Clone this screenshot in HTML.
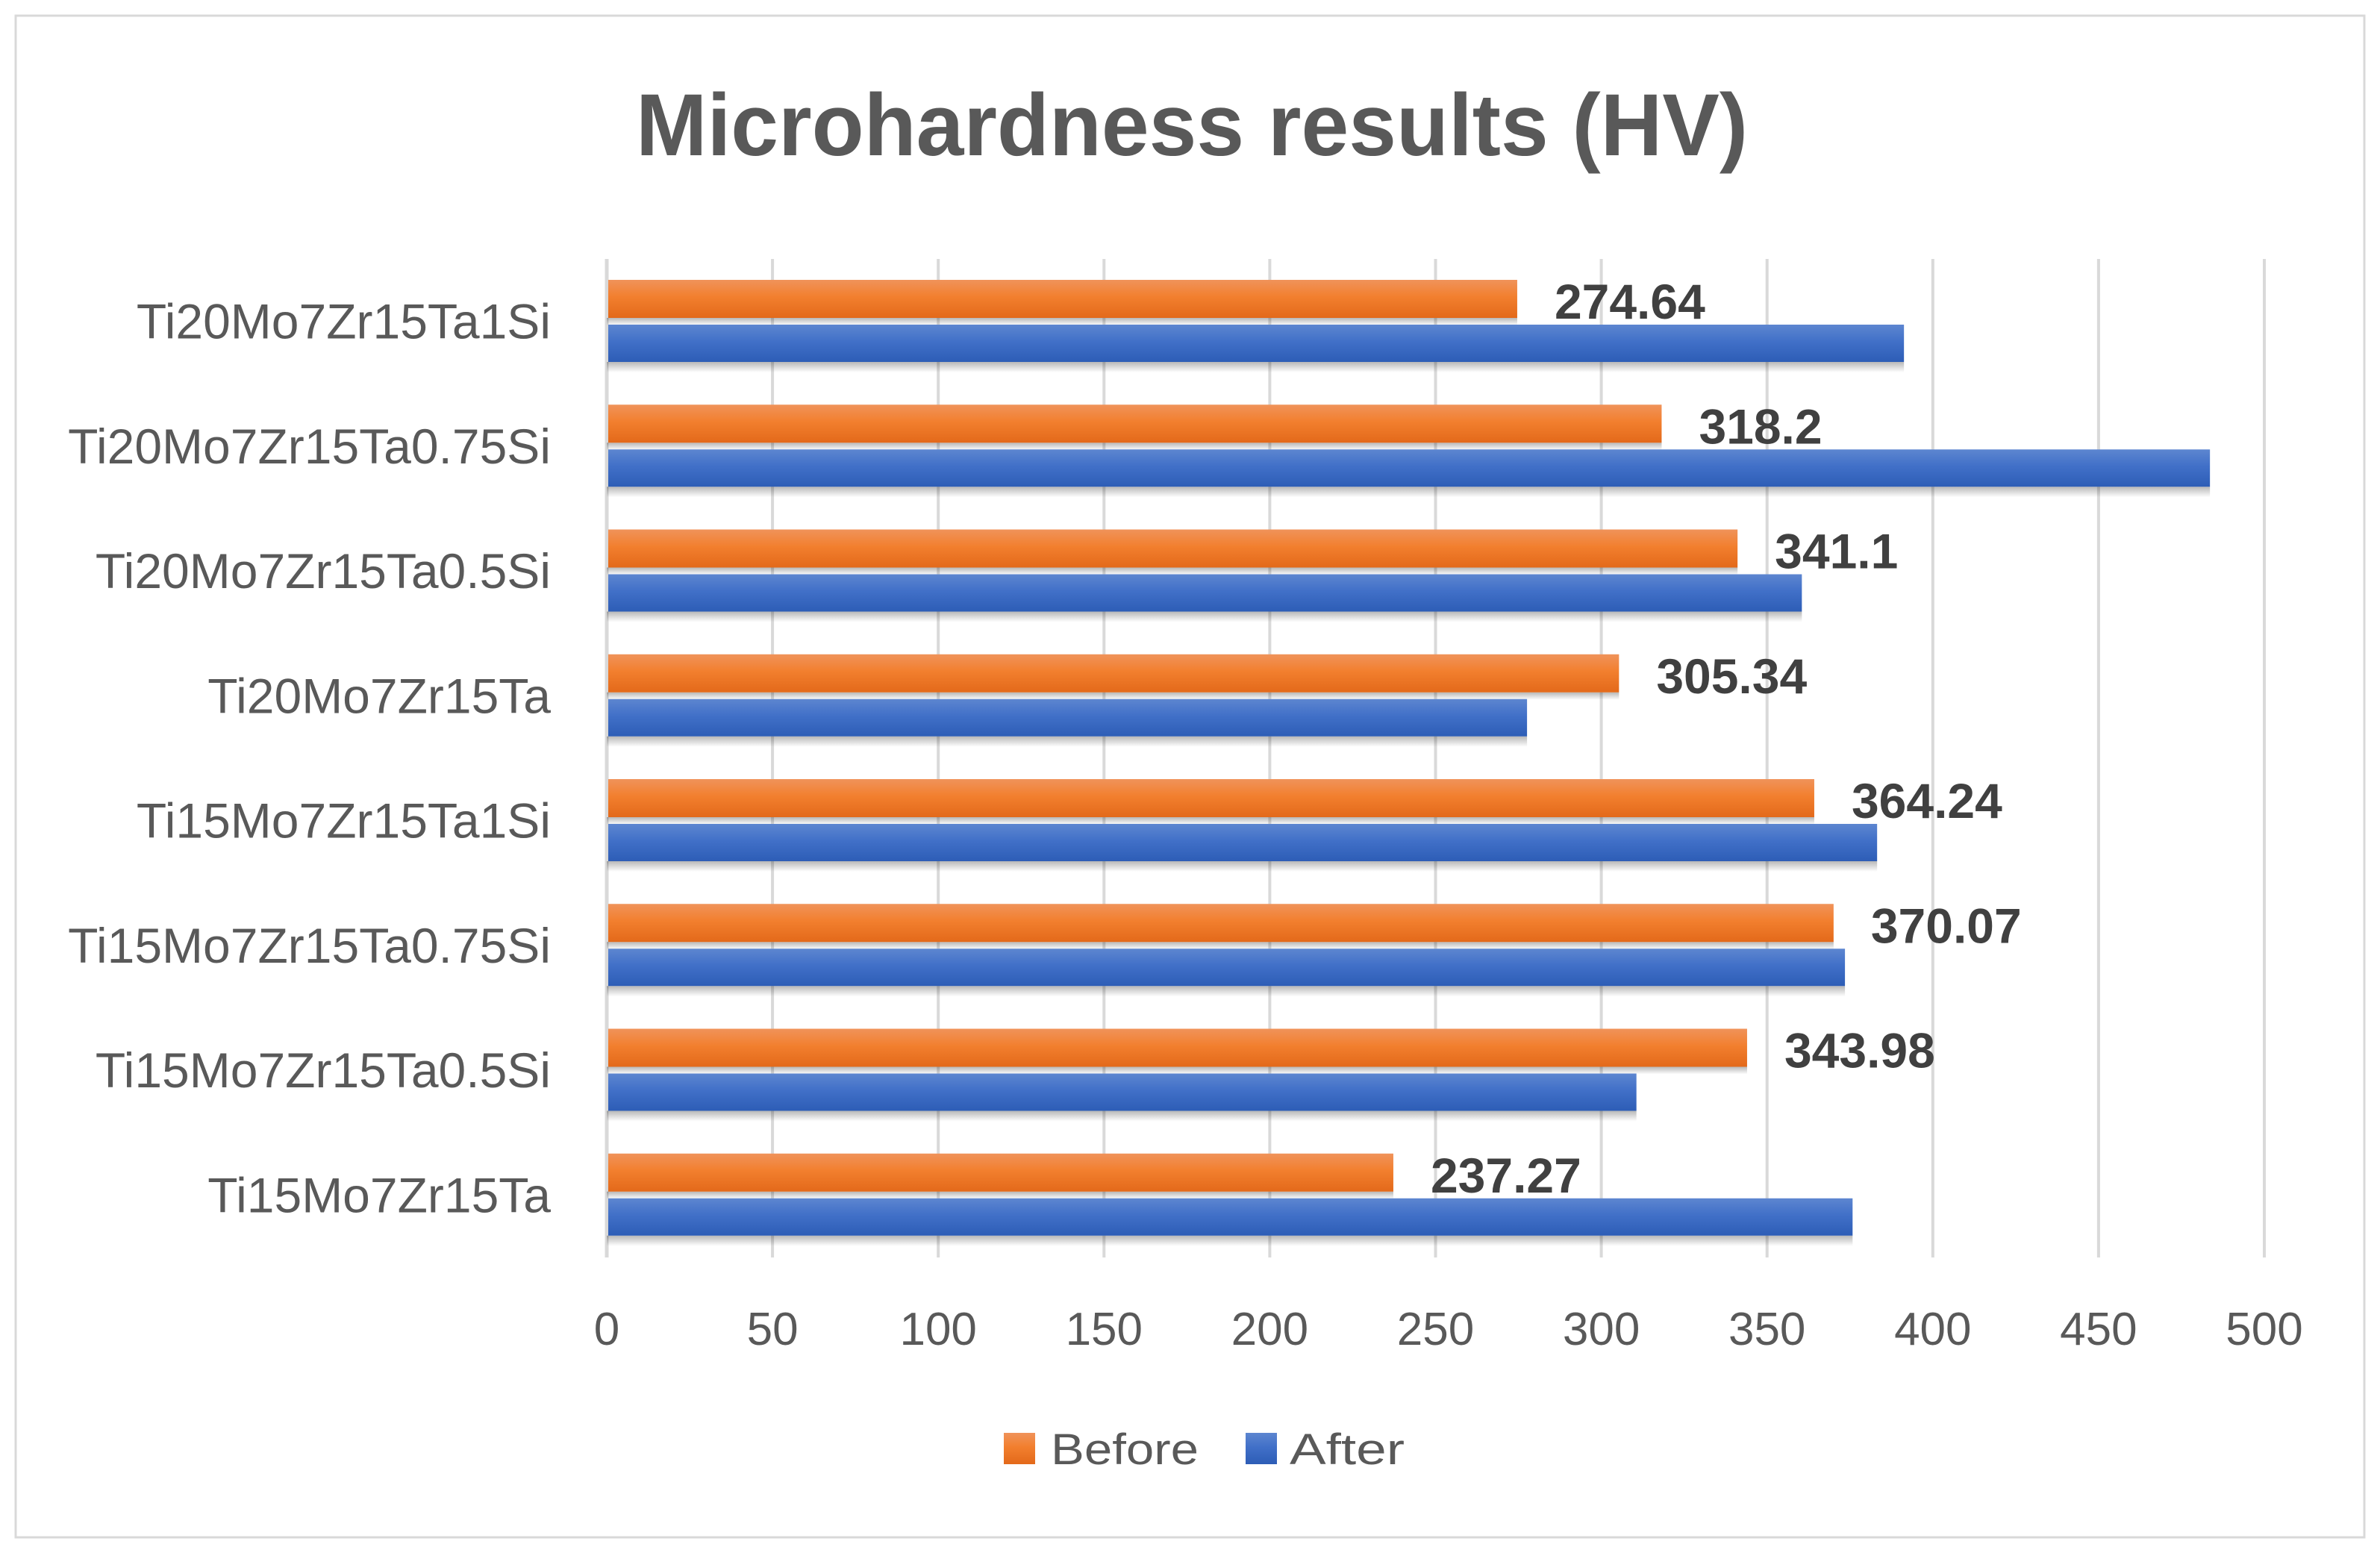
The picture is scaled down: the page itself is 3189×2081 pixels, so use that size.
<!DOCTYPE html>
<html><head><meta charset="utf-8"><style>
html,body{margin:0;padding:0;background:#fff;}
svg{display:block;font-family:"Liberation Sans",Arial,sans-serif;}
</style></head><body>
<svg id="chart" width="3189" height="2081" viewBox="0 0 3189 2081" xmlns="http://www.w3.org/2000/svg">
<defs>
<linearGradient id="gO" x1="0" y1="0" x2="0" y2="1"><stop offset="0" stop-color="#f0935a"/><stop offset="0.45" stop-color="#f27f2e"/><stop offset="1" stop-color="#e3691a"/></linearGradient>
<linearGradient id="gB" x1="0" y1="0" x2="0" y2="1"><stop offset="0" stop-color="#5d86d0"/><stop offset="0.45" stop-color="#4170c8"/><stop offset="1" stop-color="#2d5db6"/></linearGradient>
<linearGradient id="gS" x1="0" y1="0" x2="0" y2="1"><stop offset="0" stop-color="#000" stop-opacity="0.28"/><stop offset="1" stop-color="#000" stop-opacity="0"/></linearGradient>
</defs>
<rect x="21" y="21" width="3147" height="2039" fill="#fff" stroke="#d9d9d9" stroke-width="3"/>
<text x="1597" y="208" text-anchor="middle" font-size="118" font-weight="bold" fill="#595959" textLength="1490" lengthAdjust="spacingAndGlyphs">Microhardness results (HV)</text>
<g id="grid"></g>
<g id="cats"></g>
<g id="bars"></g>
<g id="labels"></g>
<g id="ticks"></g>
<g>
<rect x="1345" y="1920" width="42" height="42" fill="url(#gO)"/>
<text x="1408" y="1962" font-size="58" fill="#595959" textLength="198" lengthAdjust="spacingAndGlyphs">Before</text>
<rect x="1669" y="1920" width="42" height="42" fill="url(#gB)"/>
<text x="1728" y="1962" font-size="58" fill="#595959" textLength="154" lengthAdjust="spacingAndGlyphs">After</text>
</g>
</svg>
<script>
const categories = ["Ti20Mo7Zr15Ta1Si","Ti20Mo7Zr15Ta0.75Si","Ti20Mo7Zr15Ta0.5Si","Ti20Mo7Zr15Ta","Ti15Mo7Zr15Ta1Si","Ti15Mo7Zr15Ta0.75Si","Ti15Mo7Zr15Ta0.5Si","Ti15Mo7Zr15Ta"];
const beforeValues = [274.64,318.2,341.1,305.34,364.24,370.07,343.98,237.27];
const afterValues = [391.3,483.6,360.5,277.6,383.2,373.5,310.6,375.8];
const beforeLabels = ["274.64","318.2","341.1","305.34","364.24","370.07","343.98","237.27"];
const tickValues = [0,50,100,150,200,250,300,350,400,450,500];

const NS="http://www.w3.org/2000/svg";
const X0=813,X1=3034,XMAX=500,TOP=347,BOT=1685;
const band=(BOT-TOP)/categories.length;
const xs=v=>X0+(v/XMAX)*(X1-X0);
function mk(tag,attrs,parent){const e=document.createElementNS(NS,tag);for(const k in attrs)e.setAttribute(k,attrs[k]);parent.appendChild(e);return e;}
const grid=document.getElementById('grid'),cats=document.getElementById('cats'),bars=document.getElementById('bars'),labels=document.getElementById('labels'),ticks=document.getElementById('ticks');
tickValues.forEach((t,i)=>{
  const l=mk('line',{x1:xs(t),x2:xs(t),y1:TOP,y2:BOT,stroke:'#d9d9d9','stroke-width':i===0?5:4},grid);
  
  
  const tx=mk('text',{x:xs(t),y:1802,'text-anchor':'middle','font-size':62,fill:'#595959'},ticks);
  tx.textContent=t;
  
  
});
categories.forEach((c,i)=>{
  const y=TOP+i*band;
  const ct=mk('text',{x:738,y:y+band/2+23,'text-anchor':'end','font-size':66,fill:'#595959'},cats);
  ct.textContent=c;
  
  
  const wb=xs(afterValues[i])-X0, wo=xs(beforeValues[i])-X0;
  const sh=mk('rect',{x:X0,y:y+138,width:wb,height:14,fill:'url(#gS)'},bars);
  
  
  const so=mk('rect',{x:X0,y:y+79,width:wo,height:10,fill:'url(#gS)'},bars);
  
  
  const bo=mk('rect',{x:X0+2,y:y+28,width:wo-2,height:51,fill:'url(#gO)'},bars);
  
  
  const bb=mk('rect',{x:X0+2,y:y+88,width:wb-2,height:50,fill:'url(#gB)'},bars);
  
  
  const lt=mk('text',{x:xs(beforeValues[i])+50,y:y+80,'font-size':66,'font-weight':'bold',fill:'#404040'},labels);
  lt.textContent=beforeLabels[i];
  
  
});
</script>
</body></html>
